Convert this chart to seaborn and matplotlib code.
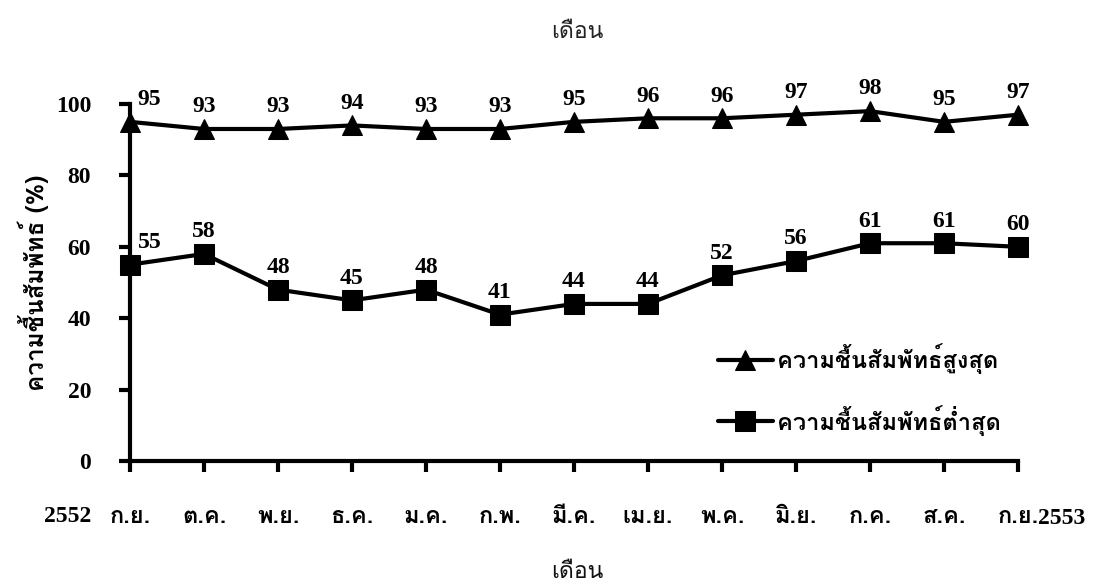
import matplotlib
matplotlib.use("Agg")
import matplotlib.pyplot as plt
from matplotlib import font_manager
from matplotlib.ft2font import FT2Font
import seaborn as sns
import pandas as pd

# ---- data -------------------------------------------------------------
months = ["ก.ย.", "ต.ค.", "พ.ย.", "ธ.ค.", "ม.ค.", "ก.พ.", "มี.ค.",
          "เม.ย.", "พ.ค.", "มิ.ย.", "ก.ค.", "ส.ค.", "ก.ย."]
rh_max = [95, 93, 93, 94, 93, 93, 95, 96, 96, 97, 98, 95, 97]
rh_min = [55, 58, 48, 45, 48, 41, 44, 44, 52, 56, 61, 61, 60]
series_names = ["ความชื้นสัมพัทธ์สูงสุด", "ความชื้นสัมพัทธ์ต่ำสุด"]
y_ticks = [0, 20, 40, 60, 80, 100]
year_start, year_end = "2552", "2553"
x_title = "เดือน"
y_title = "ความชื้นสัมพัทธ์ (%)"


def find_thai_family():
    """Return the name of an installed family that has Thai glyphs."""
    names = []
    for f in font_manager.fontManager.ttflist:
        try:
            cmap = FT2Font(f.fname).get_charmap()
        except Exception:
            continue
        if 0x0E04 in cmap and 0x0E2A in cmap:
            names.append(f.name)
    return names[0] if names else "DejaVu Sans"


sns.set_theme(style="white")
thai = find_thai_family()
serif = "Liberation Serif"
plt.rcParams["font.family"] = [serif, thai, "DejaVu Sans"]
plt.rcParams["font.weight"] = "bold"
plt.rcParams["text.color"] = "black"

df = pd.DataFrame({
    "x": list(range(len(months))) * 2,
    "rh": rh_max + rh_min,
    "series": [series_names[0]] * len(months) + [series_names[1]] * len(months),
})

fig = plt.figure(figsize=(10.96, 5.84), dpi=100)
fig.patch.set_facecolor("white")
ax = fig.add_axes([130 / 1096, 1 - 461 / 584, 888 / 1096, 357 / 584])

sns.lineplot(data=df, x="x", y="rh", hue="series", style="series",
             palette=["black", "black"], markers={series_names[0]: "^", series_names[1]: "s"},
             dashes=False, markersize=15, linewidth=3, markeredgecolor="black",
             ax=ax, clip_on=False, zorder=3)

ax.set_xlim(0, len(months) - 1)
ax.set_ylim(0, 100)
ax.set_xticks(range(len(months)))
ax.set_xticklabels(months, family=[thai, "DejaVu Sans"], fontsize=17, fontweight="bold")
ax.set_yticks(y_ticks)
ax.set_yticklabels([str(v) for v in y_ticks], family=serif, fontsize=17, fontweight="bold")
ax.tick_params(axis="x", bottom=True, direction="out", length=8, width=3, pad=24,
               color="black", labelcolor="black")
ax.tick_params(axis="y", left=True, direction="out", length=8, width=3, pad=20,
               color="black", labelcolor="black")
ax.set_xlabel("")
ax.set_ylabel("")
ax.grid(False)
for side in ("top", "right"):
    ax.spines[side].set_visible(False)
for side in ("left", "bottom"):
    ax.spines[side].set_linewidth(3)
    ax.spines[side].set_color("black")

# value labels above each point
for values in (rh_max, rh_min):
    for i, v in enumerate(values):
        dx = 14 if i == 0 else 0
        ax.annotate(str(v), (i, v), xytext=(dx, 16), textcoords="offset points",
                    ha="center", va="center", family=serif, fontsize=17,
                    fontweight="bold", color="black", annotation_clip=False)

handles, labels = ax.get_legend_handles_labels()
leg = ax.legend(handles, labels, loc="upper left",
                bbox_to_anchor=(697 / 1096, 1 - 322 / 584), bbox_transform=fig.transFigure,
                frameon=False, handlelength=2.3, handletextpad=0.2, labelspacing=1.3,
                prop={"family": [thai, "DejaVu Sans"], "size": 17, "weight": "bold"})
for t in leg.get_texts():
    t.set_color("black")

fig.text(68 / 1096, 1 - 516 / 584, year_start, ha="center", va="center",
         family=serif, fontsize=17, fontweight="bold")
fig.text(1062 / 1096, 1 - 519 / 584, year_end, ha="center", va="center",
         family=serif, fontsize=17, fontweight="bold")
fig.text(577 / 1096, 1 - 32 / 584, x_title, ha="center", va="center",
         family=[thai, "DejaVu Sans"], fontsize=16.5, fontweight="normal", color="#222222")
fig.text(577 / 1096, 1 - 572 / 584, x_title, ha="center", va="center",
         family=[thai, "DejaVu Sans"], fontsize=16.5, fontweight="normal", color="#111111")
fig.text(33 / 1096, 1 - 283 / 584, y_title, ha="center", va="center", rotation=90,
         family=[thai, serif], fontsize=17.5, fontweight="bold")

fig.savefig("out.png", dpi=100, facecolor="white")
